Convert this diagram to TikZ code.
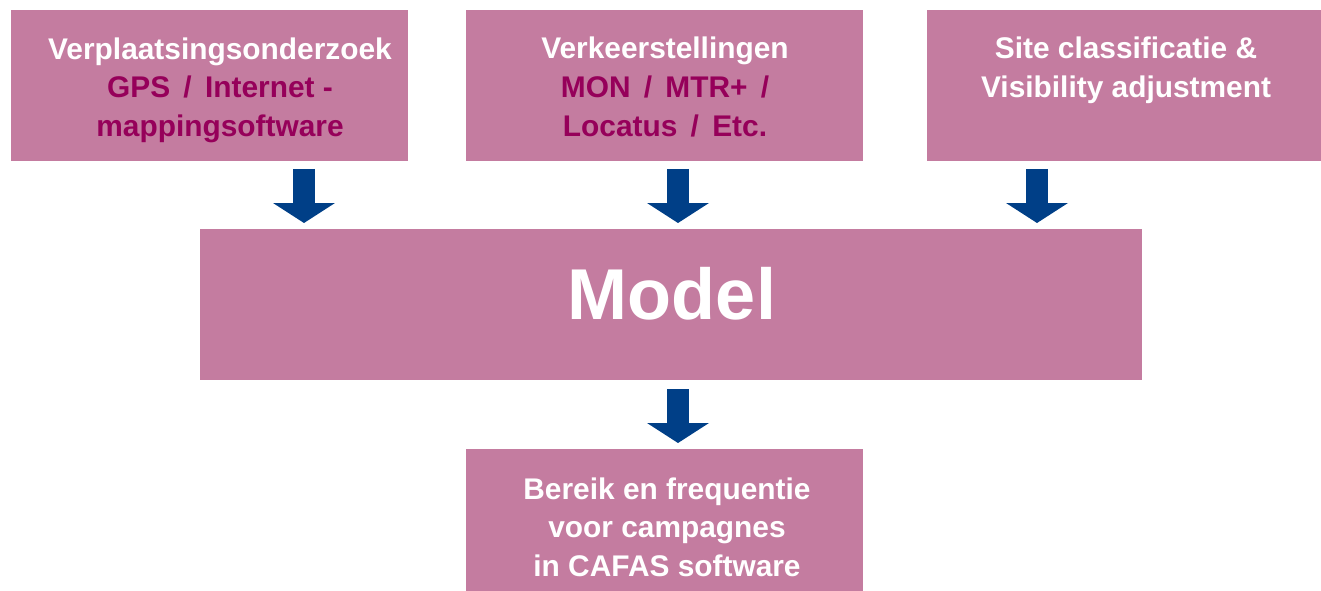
\documentclass[tikz,border=0pt]{standalone}
\usepackage{fontspec}
\setmainfont{Liberation Sans}
\usetikzlibrary{arrows.meta}
\definecolor{boxpink}{RGB}{196,124,160}
\definecolor{plum}{RGB}{150,0,90}
\definecolor{arrowblue}{RGB}{0,63,135}
\tikzset{
    block/.style={fill=boxpink, inner sep=0pt, anchor=north west},
    blocktext/.style={text=white, font=\fontsize{17}{22}\selectfont\bfseries, align=center, inner sep=0pt},
    flow/.style={draw=arrowblue, line width=0.44cm,
      -{Triangle[width=1.24cm, length=0.4cm, line width=0pt]}},
}
\newcommand{\subline}[1]{\textcolor{plum}{#1}}
\begin{document}
\begin{tikzpicture}[x=0.02cm, y=-0.02cm]
          \useasboundingbox (0,0) rectangle (1321,591);
          % inputs
          \node [block, minimum width=7.94cm, minimum height=3.02cm] (survey) at (11,10) {};
          \node [block, minimum width=7.94cm, minimum height=3.02cm] (counts) at (466,10) {};
          \node [block, minimum width=7.88cm, minimum height=3.02cm] (site) at (927,10) {};
          \node [blocktext] (surveytext) at (220,90)
            {Verplaatsingsonderzoek\\\subline{GPS \,/\, Internet -}\\\subline{mappingsoftware}};
          \node [blocktext] (countstext) at (665,87)
            {Verkeerstellingen\\\subline{MON \,/\, MTR+ \,/}\\\subline{Locatus \,/\, Etc.}};
          \node [blocktext] (sitetext) at (1126,70)
            {Site classificatie \&\\Visibility adjustment};
          % model
          \node [block, minimum width=18.84cm, minimum height=3.02cm] (model) at (200,229) {};
          \node [blocktext, font=\fontsize{41}{48}\selectfont\bfseries] (modeltext) at (672,294) {Model};
          % output
          \node [block, minimum width=7.94cm, minimum height=2.84cm] (result) at (466,449) {};
          \node [blocktext] (resulttext) at (667,527)
            {Bereik en frequentie\\voor campagnes\\in CAFAS software};
          % arrows
          \coordinate (a1) at (304,161);
          \coordinate (a2) at (678,161);
          \coordinate (a3) at (1037,161);
          \coordinate (a4) at (678,380);
          \foreach \a in {a1,a2,a3}
            \draw [flow, shorten <=0.16cm, shorten >=0.12cm] (\a) -- (\a |- model.north);
          \draw [flow, shorten <=0.18cm, shorten >=0.12cm] (a4) -- (a4 |- result.north);
\end{tikzpicture}
\end{document}
